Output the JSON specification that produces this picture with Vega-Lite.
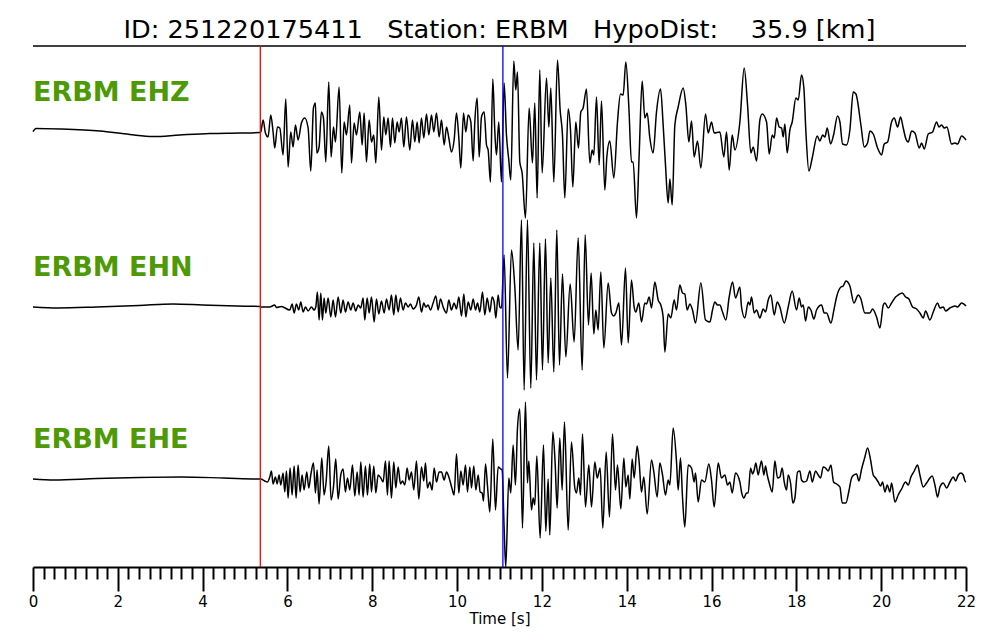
{
  "$schema": "https://vega.github.io/schema/vega-lite/v6.json",
  "width": 933,
  "height": 521,
  "autosize": {"type": "none"},
  "padding": {"left": 33, "top": 46, "right": 34, "bottom": 73},
  "background": "white",
  "title": {
    "text": "ID: 251220175411\u00a0\u00a0\u00a0Station: ERBM\u00a0\u00a0\u00a0HypoDist:\u00a0\u00a0\u00a0\u00a035.9 [km]",
    "font": "DejaVu Sans",
    "fontSize": 25.6,
    "fontWeight": "normal",
    "color": "black",
    "anchor": "middle",
    "baseline": "alphabetic",
    "offset": 9,
    "dy": 27
  },
  "config": {
    "view": {"stroke": null},
    "axisX": {
      "grid": false,
      "domainColor": "black",
      "domainWidth": 2,
      "tickColor": "black",
      "tickWidth": 2,
      "labelOverlap": false,
      "labelFlush": false,
      "labelFont": "DejaVu Sans",
      "labelFontSize": 15,
      "labelColor": "black",
      "labelPadding": 3,
      "titleFont": "DejaVu Sans",
      "titleFontSize": 15,
      "titleFontWeight": "normal",
      "titleColor": "black",
      "titlePadding": 2
    }
  },
  "datasets": {
    "ehz": [
      {"t":0,"a":0.3},{"t":0.07,"a":3.5},{"t":0.63,"a":3},{"t":1.58,"a":1},{"t":2.28,"a":-2.5},{"t":2.83,"a":-4.5},{"t":3.46,"a":-3},{"t":4.17,"a":-1.5},{"t":4.87,"a":-1},{"t":5.35,"a":-0.5},
      {"t":5.37,"a":0},{"t":5.426,"a":12},{"t":5.481,"a":-1},{"t":5.543,"a":-5},{"t":5.606,"a":17},{"t":5.661,"a":0},{"t":5.701,"a":-16},{"t":5.764,"a":5},{"t":5.819,"a":4},{"t":5.897,"a":-23},{"t":5.96,"a":33},{"t":6.015,"a":-35},{"t":6.078,"a":0},{"t":6.133,"a":-15},{"t":6.188,"a":7},{"t":6.251,"a":-8},{"t":6.33,"a":9},{"t":6.408,"a":14},{"t":6.487,"a":4},{"t":6.55,"a":-39},{"t":6.613,"a":24},{"t":6.66,"a":29},{"t":6.691,"a":-21},{"t":6.746,"a":-15},{"t":6.801,"a":20},{"t":6.849,"a":14},{"t":6.904,"a":-30},{"t":6.974,"a":50},{"t":7.029,"a":-25},{"t":7.085,"a":5},{"t":7.132,"a":-10},{"t":7.218,"a":45},{"t":7.281,"a":-41},{"t":7.336,"a":10},{"t":7.391,"a":-3},{"t":7.47,"a":27},{"t":7.509,"a":-31},{"t":7.572,"a":9},{"t":7.627,"a":-3},{"t":7.706,"a":20},{"t":7.761,"a":-13},{"t":7.808,"a":19},{"t":7.863,"a":-30},{"t":7.926,"a":12},{"t":7.981,"a":-10},{"t":8.036,"a":-3},{"t":8.083,"a":-31},{"t":8.154,"a":35},{"t":8.217,"a":-18},{"t":8.272,"a":15},{"t":8.319,"a":-3},{"t":8.374,"a":14},{"t":8.429,"a":-15},{"t":8.476,"a":14},{"t":8.531,"a":-11},{"t":8.586,"a":10},{"t":8.633,"a":0},{"t":8.688,"a":14},{"t":8.743,"a":-15},{"t":8.806,"a":15},{"t":8.885,"a":-18},{"t":8.948,"a":12},{"t":9.003,"a":-10},{"t":9.058,"a":10},{"t":9.105,"a":-11},{"t":9.16,"a":14},{"t":9.215,"a":-6},{"t":9.278,"a":18},{"t":9.333,"a":-3},{"t":9.396,"a":17},{"t":9.451,"a":0},{"t":9.514,"a":19},{"t":9.577,"a":-5},{"t":9.632,"a":12},{"t":9.695,"a":-13},{"t":9.75,"a":5},{"t":9.805,"a":-6},{"t":9.867,"a":-20},{"t":9.93,"a":-8},{"t":9.986,"a":19},{"t":10.041,"a":-6},{"t":10.088,"a":-36},{"t":10.151,"a":19},{"t":10.206,"a":0},{"t":10.261,"a":17},{"t":10.324,"a":10},{"t":10.379,"a":-29},{"t":10.418,"a":10},{"t":10.473,"a":34},{"t":10.52,"a":-25},{"t":10.575,"a":15},{"t":10.638,"a":20},{"t":10.693,"a":-13},{"t":10.732,"a":-18},{"t":10.787,"a":-50},{"t":10.842,"a":53},{"t":10.89,"a":0},{"t":10.928,"a":-23},{"t":10.983,"a":10},{"t":11.046,"a":-50},
      {"t":11.109,"a":49},{"t":11.164,"a":-3},{"t":11.219,"a":-28},{"t":11.266,"a":-48},{"t":11.337,"a":71},{"t":11.384,"a":42},{"t":11.424,"a":60},{"t":11.479,"a":-30},{"t":11.534,"a":-41},{"t":11.612,"a":-86},{"t":11.699,"a":24},{"t":11.777,"a":-31},{"t":11.832,"a":29},{"t":11.887,"a":-66},{"t":11.95,"a":62},{"t":12.005,"a":-41},{"t":12.108,"a":54},{"t":12.163,"a":5},{"t":12.21,"a":44},{"t":12.281,"a":-50},{"t":12.367,"a":72},{"t":12.43,"a":22},{"t":12.485,"a":-3},{"t":12.54,"a":-66},{"t":12.619,"a":23},{"t":12.674,"a":2},{"t":12.729,"a":-55},{"t":12.799,"a":10},{"t":12.862,"a":-16},{"t":12.917,"a":20},{"t":12.972,"a":24},{"t":13.051,"a":43},{"t":13.13,"a":-31},{"t":13.185,"a":-18},{"t":13.224,"a":-23},{"t":13.287,"a":35},{"t":13.35,"a":-33},{"t":13.405,"a":31},{"t":13.483,"a":-58},{"t":13.531,"a":-25},{"t":13.601,"a":-9},{"t":13.696,"a":-46},{"t":13.782,"a":10},{"t":13.853,"a":38},{"t":13.916,"a":37},{"t":13.979,"a":70},{"t":14.05,"a":25},{"t":14.112,"a":-30},{"t":14.152,"a":-30},{"t":14.23,"a":-86},{"t":14.293,"a":-23},{"t":14.364,"a":51},{"t":14.427,"a":14},{"t":14.482,"a":19},{"t":14.545,"a":-6},{"t":14.623,"a":-21},{"t":14.702,"a":20},{"t":14.797,"a":43},{"t":14.859,"a":7},{"t":14.914,"a":-33},{"t":14.977,"a":-71},{"t":15.017,"a":-47},{"t":15.072,"a":-73},{"t":15.135,"a":7},{"t":15.213,"a":25},{"t":15.331,"a":44},{"t":15.394,"a":27},{"t":15.465,"a":-10},{"t":15.528,"a":11},{"t":15.59,"a":-25},{"t":15.669,"a":-9},{"t":15.748,"a":-36},{"t":15.858,"a":18},{"t":15.921,"a":-1},{"t":15.999,"a":10},{"t":16.062,"a":-1},{"t":16.196,"a":0},{"t":16.29,"a":-25},{"t":16.353,"a":0},{"t":16.416,"a":-38},{"t":16.487,"a":-3},{"t":16.55,"a":-18},{"t":16.668,"a":10},
      {"t":16.77,"a":64},{"t":16.849,"a":27},{"t":16.927,"a":-21},{"t":16.982,"a":-15},{"t":17.061,"a":-29},{"t":17.14,"a":12},{"t":17.195,"a":18},{"t":17.297,"a":10},{"t":17.36,"a":-22},{"t":17.431,"a":-3},{"t":17.478,"a":-6},{"t":17.533,"a":14},{"t":17.596,"a":5},{"t":17.651,"a":4},{"t":17.69,"a":-5},{"t":17.729,"a":8},{"t":17.784,"a":-21},{"t":17.847,"a":2},{"t":17.902,"a":10},{"t":17.989,"a":34},{"t":18.044,"a":32},{"t":18.122,"a":57},{"t":18.177,"a":44},{"t":18.225,"a":0},{"t":18.295,"a":-39},{"t":18.374,"a":-26},{"t":18.492,"a":-4},{"t":18.555,"a":-9},{"t":18.618,"a":-3},{"t":18.673,"a":-5},{"t":18.728,"a":4},{"t":18.806,"a":-12},{"t":18.877,"a":-3},{"t":18.971,"a":16},{"t":19.027,"a":10},{"t":19.09,"a":-12},{"t":19.184,"a":-13},{"t":19.262,"a":2},{"t":19.341,"a":40},{"t":19.404,"a":38},{"t":19.522,"a":7},{"t":19.6,"a":-15},{"t":19.679,"a":-11},{"t":19.734,"a":1},{"t":19.813,"a":-2},{"t":19.915,"a":-16},{"t":20.009,"a":-23},{"t":20.072,"a":-12},{"t":20.151,"a":-10},{"t":20.245,"a":10},{"t":20.308,"a":14},{"t":20.387,"a":5},{"t":20.457,"a":15},{"t":20.52,"a":4},{"t":20.575,"a":-6},{"t":20.638,"a":-10},{"t":20.717,"a":1},{"t":20.795,"a":-1},{"t":20.898,"a":-16},{"t":20.953,"a":-11},{"t":21.016,"a":-17},{"t":21.11,"a":-2},{"t":21.212,"a":0},{"t":21.306,"a":10},{"t":21.361,"a":5},{"t":21.424,"a":7},{"t":21.487,"a":4},{"t":21.55,"a":5},{"t":21.66,"a":-12},{"t":21.739,"a":-11},{"t":21.802,"a":-12},{"t":21.896,"a":-4},{"t":22,"a":-8}
    ],
    "ehn": [
      {"t":0,"a":0},{"t":0.6,"a":-1},{"t":1.5,"a":0},{"t":2.5,"a":1.5},{"t":3.3,"a":3},{"t":4.0,"a":2},{"t":4.8,"a":1},{"t":5.35,"a":0.5},
      {"t":5.371,"a":0},{"t":5.583,"a":0},{"t":5.701,"a":2},{"t":5.74,"a":-0.5},{"t":5.858,"a":0.5},{"t":6.055,"a":-3},{"t":6.11,"a":3},{"t":6.157,"a":-6},{"t":6.212,"a":3},{"t":6.267,"a":-3},{"t":6.314,"a":5},{"t":6.369,"a":-5},{"t":6.424,"a":0},{"t":6.487,"a":-4},{"t":6.566,"a":0},{"t":6.628,"a":-3},{"t":6.668,"a":0},{"t":6.707,"a":15},{"t":6.746,"a":-13},{"t":6.786,"a":14},{"t":6.825,"a":-13},{"t":6.864,"a":9},{"t":6.904,"a":-6},{"t":6.959,"a":9},{"t":7.022,"a":-10},{"t":7.077,"a":7},{"t":7.132,"a":-10},{"t":7.195,"a":10},{"t":7.257,"a":-6},{"t":7.312,"a":7},{"t":7.367,"a":-5},{"t":7.43,"a":5},{"t":7.493,"a":-3},{"t":7.548,"a":4},{"t":7.611,"a":-4},{"t":7.666,"a":2},{"t":7.729,"a":-1},{"t":7.784,"a":9},{"t":7.823,"a":-13},{"t":7.879,"a":9},{"t":7.926,"a":-6},{"t":7.981,"a":10},{"t":8.044,"a":-15},{"t":8.099,"a":8},{"t":8.154,"a":-7},{"t":8.217,"a":6},{"t":8.28,"a":-6},{"t":8.335,"a":8},{"t":8.397,"a":-3},{"t":8.452,"a":12},{"t":8.507,"a":-8},{"t":8.555,"a":12},{"t":8.61,"a":-5},{"t":8.665,"a":9},{"t":8.727,"a":-3},{"t":8.783,"a":4},{"t":8.846,"a":0},{"t":8.901,"a":3},{"t":8.963,"a":-2},{"t":9.042,"a":2},{"t":9.097,"a":10},{"t":9.16,"a":-5},{"t":9.215,"a":4},{"t":9.262,"a":0},{"t":9.317,"a":2},{"t":9.372,"a":-3},{"t":9.435,"a":4},{"t":9.498,"a":11},{"t":9.553,"a":-3},{"t":9.608,"a":8},{"t":9.671,"a":0},{"t":9.75,"a":-6},{"t":9.805,"a":7},{"t":9.867,"a":-3},{"t":9.93,"a":4},{"t":9.986,"a":-2},{"t":10.041,"a":10},{"t":10.104,"a":-9},{"t":10.159,"a":13},{"t":10.206,"a":-10},{"t":10.261,"a":5},{"t":10.324,"a":-3},{"t":10.379,"a":8},{"t":10.434,"a":-3},{"t":10.481,"a":4},{"t":10.536,"a":-5},{"t":10.599,"a":15},{"t":10.654,"a":-8},{"t":10.709,"a":9},{"t":10.772,"a":-5},{"t":10.827,"a":10},{"t":10.874,"a":5},{"t":10.913,"a":-11},{"t":10.968,"a":12},
      {"t":11.007,"a":0},{"t":11.046,"a":-1},{"t":11.109,"a":52},{"t":11.188,"a":-71},{"t":11.282,"a":57},{"t":11.361,"a":20},{"t":11.439,"a":-43},{"t":11.518,"a":87},{"t":11.581,"a":-83},{"t":11.659,"a":87},{"t":11.738,"a":-81},{"t":11.809,"a":64},{"t":11.872,"a":-73},{"t":11.95,"a":64},{"t":12.013,"a":-63},{"t":12.084,"a":68},{"t":12.147,"a":-56},{"t":12.21,"a":29},{"t":12.281,"a":-65},{"t":12.351,"a":77},{"t":12.414,"a":-58},{"t":12.485,"a":33},{"t":12.564,"a":-50},{"t":12.666,"a":23},{"t":12.76,"a":-35},{"t":12.855,"a":69},{"t":12.949,"a":-63},{"t":13.02,"a":72},{"t":13.098,"a":-18},{"t":13.161,"a":34},{"t":13.224,"a":-27},{"t":13.271,"a":-3},{"t":13.326,"a":-23},{"t":13.389,"a":35},{"t":13.46,"a":-41},{"t":13.562,"a":24},{"t":13.641,"a":-6},{"t":13.696,"a":-9},{"t":13.743,"a":-6},{"t":13.814,"a":4},{"t":13.877,"a":-38},{"t":13.971,"a":39},{"t":14.034,"a":-36},{"t":14.112,"a":27},{"t":14.175,"a":0},{"t":14.215,"a":-5},{"t":14.285,"a":4},{"t":14.348,"a":-15},{"t":14.427,"a":4},{"t":14.466,"a":3},{"t":14.529,"a":10},{"t":14.584,"a":-1},{"t":14.663,"a":25},{"t":14.741,"a":7},{"t":14.804,"a":2},{"t":14.859,"a":-10},{"t":14.899,"a":-45},{"t":14.977,"a":-7},{"t":15.04,"a":-11},{"t":15.119,"a":7},{"t":15.174,"a":-3},{"t":15.252,"a":22},{"t":15.315,"a":14},{"t":15.37,"a":13},{"t":15.425,"a":-3},{"t":15.488,"a":3},{"t":15.551,"a":-3},{"t":15.622,"a":-16},{"t":15.748,"a":24},{"t":15.858,"a":-13},{"t":15.96,"a":-15},{"t":16.023,"a":-3},{"t":16.078,"a":5},{"t":16.141,"a":2},{"t":16.196,"a":2},{"t":16.259,"a":-5},{"t":16.337,"a":-13},{"t":16.416,"a":10},{"t":16.495,"a":25},{"t":16.565,"a":9},{"t":16.668,"a":20},
      {"t":16.707,"a":0},{"t":16.786,"a":-11},{"t":16.864,"a":5},{"t":16.904,"a":2},{"t":16.943,"a":10},{"t":17.006,"a":-6},{"t":17.061,"a":-3},{"t":17.14,"a":-11},{"t":17.218,"a":-2},{"t":17.273,"a":-5},{"t":17.336,"a":7},{"t":17.399,"a":12},{"t":17.478,"a":-8},{"t":17.548,"a":5},{"t":17.611,"a":0},{"t":17.714,"a":-16},{"t":17.808,"a":0},{"t":17.902,"a":16},{"t":18.004,"a":-3},{"t":18.067,"a":9},{"t":18.122,"a":0},{"t":18.162,"a":2},{"t":18.217,"a":-14},{"t":18.28,"a":0},{"t":18.343,"a":-3},{"t":18.413,"a":-12},{"t":18.476,"a":-3},{"t":18.594,"a":2},{"t":18.657,"a":-6},{"t":18.712,"a":-6},{"t":18.814,"a":-16},{"t":18.885,"a":-3},{"t":18.948,"a":10},{"t":19.05,"a":20},{"t":19.105,"a":21},{"t":19.168,"a":26},{"t":19.262,"a":21},{"t":19.357,"a":4},{"t":19.459,"a":12},{"t":19.514,"a":9},{"t":19.616,"a":-6},{"t":19.734,"a":-6},{"t":19.797,"a":-2},{"t":19.891,"a":-10},{"t":19.97,"a":-21},{"t":20.049,"a":2},{"t":20.088,"a":4},{"t":20.167,"a":-1},{"t":20.245,"a":4},{"t":20.339,"a":10},{"t":20.402,"a":12},{"t":20.497,"a":14},{"t":20.575,"a":10},{"t":20.654,"a":8},{"t":20.74,"a":0},{"t":20.835,"a":-2},{"t":20.913,"a":-6},{"t":20.992,"a":-11},{"t":21.047,"a":-4},{"t":21.149,"a":-13},{"t":21.228,"a":-5},{"t":21.33,"a":4},{"t":21.385,"a":-1},{"t":21.464,"a":0},{"t":21.519,"a":-4},{"t":21.621,"a":-1},{"t":21.739,"a":1},{"t":21.802,"a":0},{"t":21.896,"a":4},{"t":22,"a":1}
    ],
    "ehe": [
      {"t":0,"a":0},{"t":0.5,"a":-1},{"t":1.5,"a":0.5},{"t":2.5,"a":1.5},{"t":3.5,"a":2},{"t":4.5,"a":1},{"t":5.35,"a":0},
      {"t":5.371,"a":0},{"t":5.465,"a":-2},{"t":5.528,"a":-3},{"t":5.583,"a":2},{"t":5.622,"a":8},{"t":5.661,"a":-5},{"t":5.716,"a":2},{"t":5.756,"a":-5},{"t":5.803,"a":4},{"t":5.842,"a":-6},{"t":5.897,"a":6},{"t":5.937,"a":-13},{"t":5.976,"a":8},{"t":6.015,"a":-19},{"t":6.062,"a":11},{"t":6.11,"a":-16},{"t":6.157,"a":13},{"t":6.204,"a":-19},{"t":6.251,"a":14},{"t":6.298,"a":-13},{"t":6.345,"a":4},{"t":6.393,"a":-11},{"t":6.455,"a":7},{"t":6.503,"a":-9},{"t":6.55,"a":4},{"t":6.613,"a":16},{"t":6.66,"a":-14},{"t":6.699,"a":9},{"t":6.746,"a":-25},{"t":6.809,"a":21},{"t":6.864,"a":-16},{"t":6.911,"a":-3},{"t":6.974,"a":33},{"t":7.029,"a":-21},{"t":7.085,"a":-8},{"t":7.139,"a":20},{"t":7.195,"a":-20},{"t":7.257,"a":4},{"t":7.312,"a":10},{"t":7.367,"a":-13},{"t":7.415,"a":1},{"t":7.47,"a":-11},{"t":7.533,"a":14},{"t":7.588,"a":-17},{"t":7.643,"a":7},{"t":7.69,"a":-16},{"t":7.729,"a":17},{"t":7.784,"a":-18},{"t":7.839,"a":13},{"t":7.886,"a":-16},{"t":7.941,"a":15},{"t":7.981,"a":-13},{"t":8.036,"a":13},{"t":8.083,"a":-14},{"t":8.138,"a":4},{"t":8.201,"a":1},{"t":8.256,"a":-3},{"t":8.311,"a":18},{"t":8.358,"a":-16},{"t":8.397,"a":18},{"t":8.452,"a":-19},{"t":8.507,"a":17},{"t":8.555,"a":-9},{"t":8.61,"a":12},{"t":8.665,"a":-5},{"t":8.712,"a":-2},{"t":8.767,"a":-6},{"t":8.822,"a":11},{"t":8.869,"a":-1},{"t":8.924,"a":7},{"t":8.979,"a":-11},{"t":9.042,"a":18},{"t":9.097,"a":-20},{"t":9.16,"a":12},{"t":9.215,"a":-2},{"t":9.254,"a":16},{"t":9.301,"a":-9},{"t":9.356,"a":-3},{"t":9.411,"a":-11},{"t":9.459,"a":11},{"t":9.514,"a":-3},{"t":9.577,"a":7},{"t":9.632,"a":7},{"t":9.695,"a":-1},{"t":9.75,"a":7},{"t":9.813,"a":1},{"t":9.883,"a":-10},{"t":9.93,"a":-16},{"t":9.986,"a":25},{"t":10.041,"a":-14},{"t":10.088,"a":8},{"t":10.143,"a":-6},{"t":10.198,"a":14},{"t":10.245,"a":-13},{"t":10.3,"a":12},{"t":10.339,"a":-9},{"t":10.394,"a":13},{"t":10.442,"a":-11},{"t":10.497,"a":4},{"t":10.544,"a":-13},{"t":10.591,"a":-14},{"t":10.622,"a":-22},{"t":10.67,"a":15},{"t":10.717,"a":-7},{"t":10.772,"a":-33},{"t":10.842,"a":40},{"t":10.905,"a":-31},{"t":10.968,"a":12},
      {"t":11.031,"a":10},{"t":11.062,"a":9},{"t":11.109,"a":-49},{"t":11.148,"a":-88},{"t":11.219,"a":1},{"t":11.266,"a":-14},{"t":11.321,"a":34},{"t":11.376,"a":-6},{"t":11.424,"a":51},{"t":11.479,"a":70},{"t":11.542,"a":-49},{"t":11.612,"a":77},{"t":11.659,"a":-4},{"t":11.691,"a":18},{"t":11.754,"a":-31},{"t":11.793,"a":-19},{"t":11.832,"a":-26},{"t":11.88,"a":23},{"t":11.958,"a":-59},{"t":12.037,"a":34},{"t":12.092,"a":-52},{"t":12.147,"a":0},{"t":12.186,"a":-56},{"t":12.257,"a":47},{"t":12.312,"a":16},{"t":12.359,"a":-29},{"t":12.422,"a":41},{"t":12.477,"a":-11},{"t":12.532,"a":57},{"t":12.619,"a":-51},{"t":12.697,"a":37},{"t":12.776,"a":-9},{"t":12.815,"a":-14},{"t":12.87,"a":1},{"t":12.909,"a":-16},{"t":12.957,"a":45},{"t":13.027,"a":-28},{"t":13.106,"a":14},{"t":13.169,"a":-28},{"t":13.248,"a":17},{"t":13.303,"a":1},{"t":13.373,"a":11},{"t":13.436,"a":-49},{"t":13.515,"a":27},{"t":13.593,"a":-38},{"t":13.664,"a":45},{"t":13.735,"a":-11},{"t":13.782,"a":14},{"t":13.861,"a":-30},{"t":13.932,"a":21},{"t":13.979,"a":-8},{"t":14.034,"a":4},{"t":14.073,"a":-20},{"t":14.128,"a":20},{"t":14.175,"a":1},{"t":14.246,"a":33},{"t":14.293,"a":17},{"t":14.348,"a":-13},{"t":14.403,"a":2},{"t":14.482,"a":-35},{"t":14.584,"a":19},{"t":14.639,"a":7},{"t":14.718,"a":-18},{"t":14.781,"a":16},{"t":14.844,"a":4},{"t":14.914,"a":-16},{"t":14.977,"a":-1},{"t":15.017,"a":-6},{"t":15.095,"a":51},{"t":15.174,"a":17},{"t":15.213,"a":-11},{"t":15.268,"a":21},{"t":15.315,"a":-18},{"t":15.37,"a":-48},{"t":15.449,"a":14},{"t":15.528,"a":11},{"t":15.59,"a":-3},{"t":15.622,"a":6},{"t":15.685,"a":-23},{"t":15.763,"a":-1},{"t":15.842,"a":-3},{"t":15.936,"a":15},{"t":15.999,"a":-1},{"t":16.062,"a":-28},{"t":16.157,"a":16},{"t":16.235,"a":1},{"t":16.314,"a":4},{"t":16.377,"a":-6},{"t":16.432,"a":-3},{"t":16.487,"a":-14},{"t":16.565,"a":6},{"t":16.668,"a":-3},
      {"t":16.707,"a":-13},{"t":16.762,"a":-19},{"t":16.825,"a":-14},{"t":16.864,"a":-14},{"t":16.92,"a":11},{"t":16.967,"a":5},{"t":17.006,"a":9},{"t":17.045,"a":16},{"t":17.1,"a":4},{"t":17.14,"a":12},{"t":17.179,"a":18},{"t":17.234,"a":4},{"t":17.273,"a":13},{"t":17.313,"a":4},{"t":17.36,"a":-4},{"t":17.431,"a":-13},{"t":17.493,"a":18},{"t":17.556,"a":1},{"t":17.611,"a":2},{"t":17.666,"a":11},{"t":17.714,"a":-3},{"t":17.769,"a":-11},{"t":17.808,"a":4},{"t":17.863,"a":-4},{"t":17.918,"a":-24},{"t":17.965,"a":-19},{"t":18.028,"a":7},{"t":18.083,"a":8},{"t":18.122,"a":-1},{"t":18.177,"a":-3},{"t":18.24,"a":-2},{"t":18.319,"a":8},{"t":18.374,"a":-3},{"t":18.453,"a":8},{"t":18.516,"a":4},{"t":18.571,"a":1},{"t":18.633,"a":12},{"t":18.688,"a":11},{"t":18.751,"a":8},{"t":18.814,"a":14},{"t":18.877,"a":-3},{"t":18.948,"a":-5},{"t":19.027,"a":-8},{"t":19.082,"a":-24},{"t":19.168,"a":-24},{"t":19.239,"a":-12},{"t":19.302,"a":1},{"t":19.357,"a":4},{"t":19.42,"a":5},{"t":19.475,"a":-2},{"t":19.538,"a":10},{"t":19.616,"a":22},{"t":19.679,"a":31},{"t":19.75,"a":19},{"t":19.813,"a":4},{"t":19.868,"a":1},{"t":19.931,"a":-3},{"t":19.986,"a":-7},{"t":20.033,"a":-3},{"t":20.088,"a":-13},{"t":20.143,"a":-6},{"t":20.206,"a":-13},{"t":20.245,"a":-4},{"t":20.324,"a":-23},{"t":20.402,"a":-16},{"t":20.481,"a":-10},{"t":20.575,"a":-3},{"t":20.638,"a":-6},{"t":20.701,"a":2},{"t":20.78,"a":8},{"t":20.858,"a":14},{"t":20.913,"a":4},{"t":20.992,"a":-8},{"t":21.071,"a":-4},{"t":21.149,"a":1},{"t":21.204,"a":3},{"t":21.267,"a":-6},{"t":21.33,"a":-18},{"t":21.385,"a":-8},{"t":21.464,"a":-4},{"t":21.543,"a":-9},{"t":21.621,"a":-3},{"t":21.7,"a":2},{"t":21.755,"a":-2},{"t":21.818,"a":4},{"t":21.88,"a":6},{"t":21.935,"a":4},{"t":21.975,"a":-2},{"t":22,"a":-3}
    ],
    "ticks": [0,0.25,0.5,0.75,1,1.25,1.5,1.75,2,2.25,2.5,2.75,3,3.25,3.5,3.75,4,4.25,4.5,4.75,5,5.25,5.5,5.75,6,6.25,6.5,6.75,7,7.25,7.5,7.75,8,8.25,8.5,8.75,9,9.25,9.5,9.75,10,10.25,10.5,10.75,11,11.25,11.5,11.75,12,12.25,12.5,12.75,13,13.25,13.5,13.75,14,14.25,14.5,14.75,15,15.25,15.5,15.75,16,16.25,16.5,16.75,17,17.25,17.5,17.75,18,18.25,18.5,18.75,19,19.25,19.5,19.75,20,20.25,20.5,20.75,21,21.25,21.5,21.75,22]
  },
  "layer": [
    {
      "layer": [
        {
          "data": {"name": "ehz"},
          "mark": {"type": "line", "color": "black", "strokeWidth": 1.5, "interpolate": "monotone"},
          "encoding": {
            "x": {
              "field": "t", "type": "quantitative",
              "scale": {"domain": [0, 22], "nice": false, "zero": false},
              "axis": {"title": "Time [s]", "values": [0,0.25,0.5,0.75,1,1.25,1.5,1.75,2,2.25,2.5,2.75,3,3.25,3.5,3.75,4,4.25,4.5,4.75,5,5.25,5.5,5.75,6,6.25,6.5,6.75,7,7.25,7.5,7.75,8,8.25,8.5,8.75,9,9.25,9.5,9.75,10,10.25,10.5,10.75,11,11.25,11.5,11.75,12,12.25,12.5,12.75,13,13.25,13.5,13.75,14,14.25,14.5,14.75,15,15.25,15.5,15.75,16,16.25,16.5,16.75,17,17.25,17.5,17.75,18,18.25,18.5,18.75,19,19.25,19.5,19.75,20,20.25,20.5,20.75,21,21.25,21.5,21.75,22], "tickSize": {"condition": {"test": "datum.value % 2 === 0", "value": 24}, "value": 12}, "labelExpr": "datum.value % 2 === 0 ? format(datum.value, 'd') : ''"}
            },
            "y": {"field": "a", "type": "quantitative", "scale": {"domain": [-435, 86], "nice": false, "zero": false}, "axis": null}
          }
        },
        {
          "data": {"values": [{"t": 0, "a": 31, "lab": "ERBM EHZ"}]},
          "mark": {"type": "text", "align": "left", "baseline": "alphabetic", "font": "DejaVu Sans", "fontWeight": "bold", "fontSize": 27, "color": "#4e9a06"},
          "encoding": {
            "x": {"field": "t", "type": "quantitative", "axis": {"title": "Time [s]", "values": [0,0.25,0.5,0.75,1,1.25,1.5,1.75,2,2.25,2.5,2.75,3,3.25,3.5,3.75,4,4.25,4.5,4.75,5,5.25,5.5,5.75,6,6.25,6.5,6.75,7,7.25,7.5,7.75,8,8.25,8.5,8.75,9,9.25,9.5,9.75,10,10.25,10.5,10.75,11,11.25,11.5,11.75,12,12.25,12.5,12.75,13,13.25,13.5,13.75,14,14.25,14.5,14.75,15,15.25,15.5,15.75,16,16.25,16.5,16.75,17,17.25,17.5,17.75,18,18.25,18.5,18.75,19,19.25,19.5,19.75,20,20.25,20.5,20.75,21,21.25,21.5,21.75,22], "tickSize": {"condition": {"test": "datum.value % 2 === 0", "value": 24}, "value": 12}, "labelExpr": "datum.value % 2 === 0 ? format(datum.value, 'd') : ''"}},
            "y": {"field": "a", "type": "quantitative", "axis": null},
            "text": {"field": "lab"}
          }
        },
        {
          "data": {"values": [{"top": 86}]},
          "mark": {"type": "rule", "color": "black", "strokeWidth": 1.5},
          "encoding": {"y": {"field": "top", "type": "quantitative", "axis": null}}
        }
      ]
    },
    {
      "layer": [
        {
          "data": {"name": "ehn"},
          "mark": {"type": "line", "color": "black", "strokeWidth": 1.5, "interpolate": "monotone"},
          "encoding": {
            "x": {"field": "t", "type": "quantitative", "axis": {"title": "Time [s]", "values": [0,0.25,0.5,0.75,1,1.25,1.5,1.75,2,2.25,2.5,2.75,3,3.25,3.5,3.75,4,4.25,4.5,4.75,5,5.25,5.5,5.75,6,6.25,6.5,6.75,7,7.25,7.5,7.75,8,8.25,8.5,8.75,9,9.25,9.5,9.75,10,10.25,10.5,10.75,11,11.25,11.5,11.75,12,12.25,12.5,12.75,13,13.25,13.5,13.75,14,14.25,14.5,14.75,15,15.25,15.5,15.75,16,16.25,16.5,16.75,17,17.25,17.5,17.75,18,18.25,18.5,18.75,19,19.25,19.5,19.75,20,20.25,20.5,20.75,21,21.25,21.5,21.75,22], "tickSize": {"condition": {"test": "datum.value % 2 === 0", "value": 24}, "value": 12}, "labelExpr": "datum.value % 2 === 0 ? format(datum.value, 'd') : ''"}},
            "y": {"field": "a", "type": "quantitative", "scale": {"domain": [-260, 261], "nice": false, "zero": false}, "axis": null}
          }
        },
        {
          "data": {"values": [{"t": 0, "a": 31, "lab": "ERBM EHN"}]},
          "mark": {"type": "text", "align": "left", "baseline": "alphabetic", "font": "DejaVu Sans", "fontWeight": "bold", "fontSize": 27, "color": "#4e9a06"},
          "encoding": {
            "x": {"field": "t", "type": "quantitative", "axis": {"title": "Time [s]", "values": [0,0.25,0.5,0.75,1,1.25,1.5,1.75,2,2.25,2.5,2.75,3,3.25,3.5,3.75,4,4.25,4.5,4.75,5,5.25,5.5,5.75,6,6.25,6.5,6.75,7,7.25,7.5,7.75,8,8.25,8.5,8.75,9,9.25,9.5,9.75,10,10.25,10.5,10.75,11,11.25,11.5,11.75,12,12.25,12.5,12.75,13,13.25,13.5,13.75,14,14.25,14.5,14.75,15,15.25,15.5,15.75,16,16.25,16.5,16.75,17,17.25,17.5,17.75,18,18.25,18.5,18.75,19,19.25,19.5,19.75,20,20.25,20.5,20.75,21,21.25,21.5,21.75,22], "tickSize": {"condition": {"test": "datum.value % 2 === 0", "value": 24}, "value": 12}, "labelExpr": "datum.value % 2 === 0 ? format(datum.value, 'd') : ''"}},
            "y": {"field": "a", "type": "quantitative", "axis": null},
            "text": {"field": "lab"}
          }
        }
      ]
    },
    {
      "layer": [
        {
          "data": {"name": "ehe"},
          "mark": {"type": "line", "color": "black", "strokeWidth": 1.5, "interpolate": "monotone"},
          "encoding": {
            "x": {"field": "t", "type": "quantitative", "axis": {"title": "Time [s]", "values": [0,0.25,0.5,0.75,1,1.25,1.5,1.75,2,2.25,2.5,2.75,3,3.25,3.5,3.75,4,4.25,4.5,4.75,5,5.25,5.5,5.75,6,6.25,6.5,6.75,7,7.25,7.5,7.75,8,8.25,8.5,8.75,9,9.25,9.5,9.75,10,10.25,10.5,10.75,11,11.25,11.5,11.75,12,12.25,12.5,12.75,13,13.25,13.5,13.75,14,14.25,14.5,14.75,15,15.25,15.5,15.75,16,16.25,16.5,16.75,17,17.25,17.5,17.75,18,18.25,18.5,18.75,19,19.25,19.5,19.75,20,20.25,20.5,20.75,21,21.25,21.5,21.75,22], "tickSize": {"condition": {"test": "datum.value % 2 === 0", "value": 24}, "value": 12}, "labelExpr": "datum.value % 2 === 0 ? format(datum.value, 'd') : ''"}},
            "y": {"field": "a", "type": "quantitative", "scale": {"domain": [-88, 433], "nice": false, "zero": false}, "axis": null}
          }
        },
        {
          "data": {"values": [{"t": 0, "a": 31, "lab": "ERBM EHE"}]},
          "mark": {"type": "text", "align": "left", "baseline": "alphabetic", "font": "DejaVu Sans", "fontWeight": "bold", "fontSize": 27, "color": "#4e9a06"},
          "encoding": {
            "x": {"field": "t", "type": "quantitative", "axis": {"title": "Time [s]", "values": [0,0.25,0.5,0.75,1,1.25,1.5,1.75,2,2.25,2.5,2.75,3,3.25,3.5,3.75,4,4.25,4.5,4.75,5,5.25,5.5,5.75,6,6.25,6.5,6.75,7,7.25,7.5,7.75,8,8.25,8.5,8.75,9,9.25,9.5,9.75,10,10.25,10.5,10.75,11,11.25,11.5,11.75,12,12.25,12.5,12.75,13,13.25,13.5,13.75,14,14.25,14.5,14.75,15,15.25,15.5,15.75,16,16.25,16.5,16.75,17,17.25,17.5,17.75,18,18.25,18.5,18.75,19,19.25,19.5,19.75,20,20.25,20.5,20.75,21,21.25,21.5,21.75,22], "tickSize": {"condition": {"test": "datum.value % 2 === 0", "value": 24}, "value": 12}, "labelExpr": "datum.value % 2 === 0 ? format(datum.value, 'd') : ''"}},
            "y": {"field": "a", "type": "quantitative", "axis": null},
            "text": {"field": "lab"}
          }
        }
      ]
    },
    {
      "data": {"values": [{"pick": 5.36, "kind": "P"}]},
      "mark": {"type": "rule", "color": "#ff0000", "strokeWidth": 1.3},
      "encoding": {"x": {"field": "pick", "type": "quantitative", "axis": {"title": "Time [s]", "values": [0,0.25,0.5,0.75,1,1.25,1.5,1.75,2,2.25,2.5,2.75,3,3.25,3.5,3.75,4,4.25,4.5,4.75,5,5.25,5.5,5.75,6,6.25,6.5,6.75,7,7.25,7.5,7.75,8,8.25,8.5,8.75,9,9.25,9.5,9.75,10,10.25,10.5,10.75,11,11.25,11.5,11.75,12,12.25,12.5,12.75,13,13.25,13.5,13.75,14,14.25,14.5,14.75,15,15.25,15.5,15.75,16,16.25,16.5,16.75,17,17.25,17.5,17.75,18,18.25,18.5,18.75,19,19.25,19.5,19.75,20,20.25,20.5,20.75,21,21.25,21.5,21.75,22], "tickSize": {"condition": {"test": "datum.value % 2 === 0", "value": 24}, "value": 12}, "labelExpr": "datum.value % 2 === 0 ? format(datum.value, 'd') : ''"}}}
    },
    {
      "data": {"values": [{"pick": 11.08, "kind": "S"}]},
      "mark": {"type": "rule", "color": "#0000ff", "strokeWidth": 1.3},
      "encoding": {"x": {"field": "pick", "type": "quantitative", "axis": {"title": "Time [s]", "values": [0,0.25,0.5,0.75,1,1.25,1.5,1.75,2,2.25,2.5,2.75,3,3.25,3.5,3.75,4,4.25,4.5,4.75,5,5.25,5.5,5.75,6,6.25,6.5,6.75,7,7.25,7.5,7.75,8,8.25,8.5,8.75,9,9.25,9.5,9.75,10,10.25,10.5,10.75,11,11.25,11.5,11.75,12,12.25,12.5,12.75,13,13.25,13.5,13.75,14,14.25,14.5,14.75,15,15.25,15.5,15.75,16,16.25,16.5,16.75,17,17.25,17.5,17.75,18,18.25,18.5,18.75,19,19.25,19.5,19.75,20,20.25,20.5,20.75,21,21.25,21.5,21.75,22], "tickSize": {"condition": {"test": "datum.value % 2 === 0", "value": 24}, "value": 12}, "labelExpr": "datum.value % 2 === 0 ? format(datum.value, 'd') : ''"}}}
    }
  ],
  "resolve": {"scale": {"y": "independent"}}
}
